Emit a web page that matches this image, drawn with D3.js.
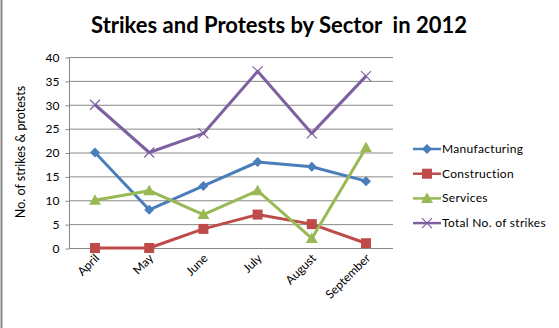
<!DOCTYPE html>
<html><head><meta charset="utf-8">
<script src="https://cdn.jsdelivr.net/npm/d3@7"></script>
<style>body{margin:0;background:#fff}svg{display:block;font-family:Lato,"Open Sans",sans-serif}</style>
</head><body>
<script>
const categories = ["April","May","June","July","August","September"];
const manufacturing = [20,8,13,18,17,14];
const construction = [0,0,4,7,5,1];
const services = [10,12,7,12,2,21];
const total = [30,20,24,37,24,36];
const yTicks = [0,5,10,15,20,25,30,35,40];
const seriesNames = ["Manufacturing","Construction","Services","Total No. of strikes"];

const W=559,H=328;
const svg=d3.select("body").append("svg").attr("width",W).attr("height",H);
svg.append("line").attr("x1",1.5).attr("x2",1.5).attr("y1",0).attr("y2",H).attr("stroke","#888").attr("stroke-width",2);

const x=d3.scalePoint().domain(categories).range([95,366]);
const y=d3.scaleLinear().domain([0,40]).range([248,57]);
const left=69,right=393;

// gridlines
svg.append("g").selectAll("line").data(yTicks).join("line")
 .attr("x1",left).attr("x2",right).attr("y1",d=>y(d)+0.5).attr("y2",d=>y(d)+0.5)
 .attr("stroke","#888").attr("stroke-width",1);
// y axis
const ya=svg.append("g").attr("transform",`translate(${left+0.5},0.5)`).call(d3.axisLeft(y).tickValues(yTicks).tickSize(4).tickPadding(6));
ya.select(".domain").attr("stroke","#888").attr("d",`M-0,${y(40)}V${y(0)}`);
ya.selectAll(".tick line").attr("stroke","#888");
ya.selectAll("text").attr("font-size",12).attr("fill","#000").attr("font-family","Lato,sans-serif");

// x labels
svg.append("g").selectAll("text").data(categories).join("text")
 .attr("transform",d=>`translate(${x(d)+5},${259}) rotate(-45)`)
 .attr("text-anchor","end").attr("font-size",12).text(d=>d);

svg.append("text").attr("transform","translate(25,152) rotate(-90)").attr("text-anchor","middle")
 .attr("font-size",12.5).text("No. of strikes & protests");

svg.append("text").attr("x",279).attr("y",33).attr("text-anchor","middle").attr("font-size",22).attr("font-weight","bold")
 .style("white-space","pre").text("Strikes and Protests by Sector  in 2012");

const colors=["#4a7ebb","#be4b48","#98b954","#7d60a0"];
const data=[manufacturing,construction,services,total];
const line=d3.line().x((d,i)=>x(categories[i])).y(d=>y(d));

function marker(g,type,cx,cy,c){
 if(type===0){g.append("path").attr("d",`M${cx},${cy-5}L${cx+5},${cy}L${cx},${cy+5}L${cx-5},${cy}Z`).attr("fill",c);}
 else if(type===1){g.append("rect").attr("x",cx-5).attr("y",cy-5).attr("width",10).attr("height",10).attr("fill",c);}
 else if(type===2){g.append("path").attr("d",`M${cx},${cy-6}L${cx+6},${cy+4.5}L${cx-6},${cy+4.5}Z`).attr("fill",c);}
 else {g.append("path").attr("d",`M${cx-5},${cy-5}L${cx+5},${cy+5}M${cx-5},${cy+5}L${cx+5},${cy-5}`).attr("stroke",c).attr("stroke-width",1.2);}
}

data.forEach((vals,k)=>{
 const g=svg.append("g");
 g.append("path").datum(vals).attr("d",line).attr("fill","none").attr("stroke",colors[k]).attr("stroke-width",3).attr("stroke-linejoin","round");
 vals.forEach((v,i)=>marker(g,k,x(categories[i]),y(v),colors[k]));
});

// legend
seriesNames.forEach((n,k)=>{
 const ly=149+k*24.7;
 const g=svg.append("g");
 g.append("line").attr("x1",413).attr("x2",441).attr("y1",ly).attr("y2",ly).attr("stroke",colors[k]).attr("stroke-width",2.5);
 marker(g,k,427,ly,colors[k]);
 g.append("text").attr("x",442).attr("y",ly+4).attr("font-size",12).attr("letter-spacing",0.3).text(n);
});
</script>
</body></html>
